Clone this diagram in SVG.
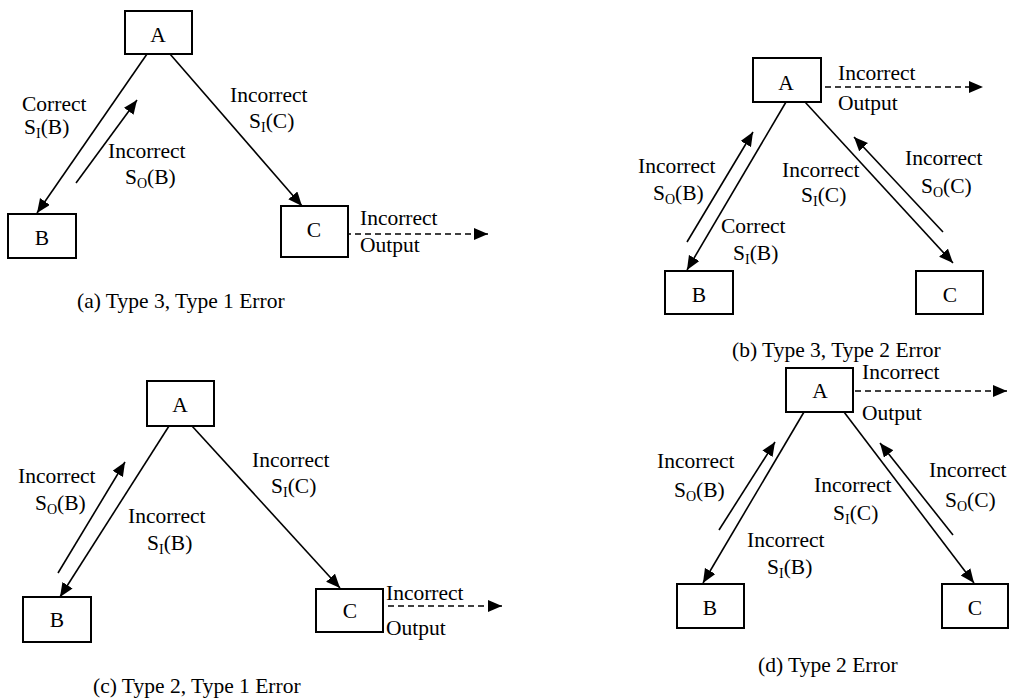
<svg xmlns="http://www.w3.org/2000/svg" width="1009" height="700" viewBox="0 0 1009 700">
<style>
text{font-family:"Liberation Serif","Times New Roman",serif;font-size:21.5px;fill:#000}
.m{text-anchor:middle}
.sub{font-size:14px}
.box{fill:#fff;stroke:#000;stroke-width:2}
.ln{stroke:#000;stroke-width:1.6;fill:none;marker-end:url(#ah)}
.dash{stroke:#000;stroke-width:1.6;fill:none;stroke-dasharray:6 4;marker-end:url(#ah)}
</style>
<defs>
<marker id="ah" markerUnits="userSpaceOnUse" markerWidth="15" markerHeight="13" refX="14" refY="6" orient="auto">
<path d="M0,0 L14,6 L0,12 z" fill="#000"/>
</marker>
</defs>
<rect width="1009" height="700" fill="#fff"/>

<g id="connectors">
<!-- (a) -->
<line class="ln" x1="147" y1="54" x2="37" y2="213"/>
<line class="ln" x1="76" y1="183" x2="137" y2="100"/>
<line class="ln" x1="170" y1="54" x2="302" y2="206"/>
<line class="dash" x1="325" y1="234" x2="488" y2="234"/>
<!-- (b) -->
<line class="ln" x1="786" y1="102" x2="687" y2="270"/>
<line class="ln" x1="687" y1="242" x2="753" y2="132"/>
<line class="ln" x1="805" y1="102" x2="953" y2="263"/>
<line class="ln" x1="943" y1="232" x2="854" y2="137"/>
<line class="dash" x1="805" y1="87" x2="983" y2="87"/>
<!-- (c) -->
<line class="ln" x1="169" y1="426" x2="60" y2="597"/>
<line class="ln" x1="58" y1="573" x2="125" y2="462"/>
<line class="ln" x1="192" y1="426" x2="340" y2="588"/>
<line class="dash" x1="368" y1="606" x2="502" y2="606"/>
<!-- (d) -->
<line class="ln" x1="804" y1="412" x2="703" y2="583"/>
<line class="ln" x1="719" y1="530" x2="775" y2="442"/>
<line class="ln" x1="844" y1="412" x2="974" y2="583"/>
<line class="ln" x1="953" y1="535" x2="880" y2="443"/>
<line class="dash" x1="835" y1="391" x2="1007" y2="391"/>
</g>

<!-- Panel (a) -->
<g id="a-A"><rect class="box" x="125" y="11" width="67" height="43"/><text class="m" x="158" y="42">A</text></g>
<g id="a-B"><rect class="box" x="8" y="214" width="68" height="44"/><text class="m" x="42" y="245">B</text></g>
<g id="a-C"><rect class="box" x="281" y="206" width="67" height="51"/><text class="m" x="314" y="237" style="paint-order:stroke" stroke="#fff" stroke-width="3">C</text></g>
<g id="a-labels">
<text x="22" y="111">Correct</text>
<text x="24" y="134">S<tspan class="sub" dy="4">I</tspan><tspan dy="-4">(B)</tspan></text>
<text x="108" y="158">Incorrect</text>
<text x="125" y="184">S<tspan class="sub" dy="4">O</tspan><tspan dy="-4">(B)</tspan></text>
<text x="230" y="102">Incorrect</text>
<text x="249" y="128">S<tspan class="sub" dy="4">I</tspan><tspan dy="-4">(C)</tspan></text>
<text x="360" y="225">Incorrect</text>
<text x="360" y="252">Output</text>
<text x="77" y="308">(a) Type 3, Type 1 Error</text>
</g>

<!-- Panel (b) -->
<g id="b-A"><rect class="box" x="753" y="58" width="68" height="44"/><text class="m" x="786" y="90" style="paint-order:stroke" stroke="#fff" stroke-width="3">A</text></g>
<g id="b-B"><rect class="box" x="665" y="271" width="68" height="43"/><text class="m" x="699" y="302">B</text></g>
<g id="b-C"><rect class="box" x="916" y="271" width="67" height="43"/><text class="m" x="950" y="302">C</text></g>
<g id="b-labels">
<text x="838" y="80">Incorrect</text>
<text x="838" y="110">Output</text>
<text x="638" y="173">Incorrect</text>
<text x="653" y="200">S<tspan class="sub" dy="4">O</tspan><tspan dy="-4">(B)</tspan></text>
<text x="721" y="233">Correct</text>
<text x="733" y="260">S<tspan class="sub" dy="4">I</tspan><tspan dy="-4">(B)</tspan></text>
<text x="782" y="177">Incorrect</text>
<text x="801" y="202">S<tspan class="sub" dy="4">I</tspan><tspan dy="-4">(C)</tspan></text>
<text x="905" y="165">Incorrect</text>
<text x="921" y="193">S<tspan class="sub" dy="4">O</tspan><tspan dy="-4">(C)</tspan></text>
<text x="732" y="357">(b) Type 3, Type 2 Error</text>
</g>

<!-- Panel (c) -->
<g id="c-A"><rect class="box" x="147" y="381" width="67" height="45"/><text class="m" x="180" y="412">A</text></g>
<g id="c-B"><rect class="box" x="23" y="597" width="68" height="45"/><text class="m" x="57" y="627">B</text></g>
<g id="c-C"><rect class="box" x="316" y="589" width="67" height="43"/><text class="m" x="350" y="618" style="paint-order:stroke" stroke="#fff" stroke-width="3">C</text></g>
<g id="c-labels">
<text x="18" y="483">Incorrect</text>
<text x="35" y="510">S<tspan class="sub" dy="4">O</tspan><tspan dy="-4">(B)</tspan></text>
<text x="128" y="523">Incorrect</text>
<text x="147" y="550">S<tspan class="sub" dy="4">I</tspan><tspan dy="-4">(B)</tspan></text>
<text x="252" y="467">Incorrect</text>
<text x="271" y="493">S<tspan class="sub" dy="4">I</tspan><tspan dy="-4">(C)</tspan></text>
<text x="386" y="600">Incorrect</text>
<text x="386" y="635">Output</text>
<text x="93" y="693">(c) Type 2, Type 1 Error</text>
</g>

<!-- Panel (d) -->
<g id="d-A"><rect class="box" x="786" y="368" width="67" height="44"/><text class="m" x="820" y="398" style="paint-order:stroke" stroke="#fff" stroke-width="3">A</text></g>
<g id="d-B"><rect class="box" x="677" y="584" width="67" height="44"/><text class="m" x="710" y="615">B</text></g>
<g id="d-C"><rect class="box" x="942" y="584" width="66" height="44"/><text class="m" x="975" y="615">C</text></g>
<g id="d-labels">
<text x="862" y="379">Incorrect</text>
<text x="862" y="420">Output</text>
<text x="657" y="468">Incorrect</text>
<text x="674" y="497">S<tspan class="sub" dy="4">O</tspan><tspan dy="-4">(B)</tspan></text>
<text x="747" y="547">Incorrect</text>
<text x="767" y="574">S<tspan class="sub" dy="4">I</tspan><tspan dy="-4">(B)</tspan></text>
<text x="814" y="492">Incorrect</text>
<text x="833" y="520">S<tspan class="sub" dy="4">I</tspan><tspan dy="-4">(C)</tspan></text>
<text x="929" y="477">Incorrect</text>
<text x="945" y="507">S<tspan class="sub" dy="4">O</tspan><tspan dy="-4">(C)</tspan></text>
<text x="758" y="672">(d) Type 2 Error</text>
</g>
</svg>
